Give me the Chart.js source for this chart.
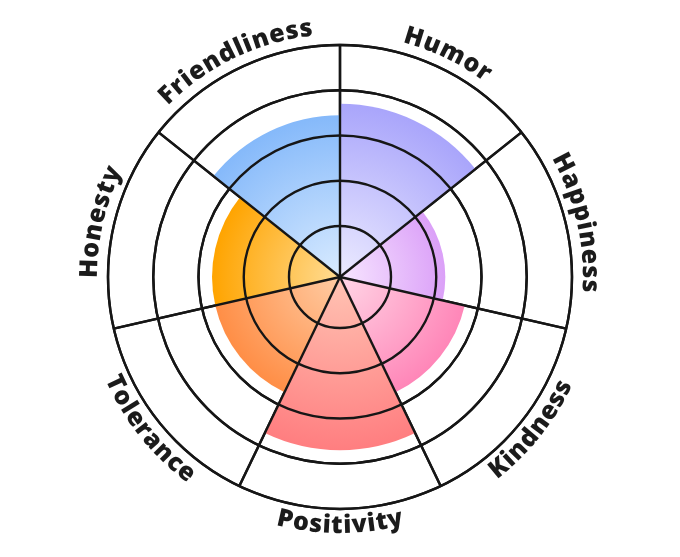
<!DOCTYPE html>
<html>
<head>
<meta charset="utf-8">
<script src="https://cdn.jsdelivr.net/npm/chart.js@4.4.1/dist/chart.umd.min.js"></script>
<style>
  html, body { margin: 0; padding: 0; background: #fff; }
  .wrap { width: 680px; height: 557px; }
</style>
</head>
<body>
<div class="wrap"><canvas id="wheel"></canvas></div>
<script>
const traits = ["Humor", "Happiness", "Kindness", "Positivity", "Tolerance", "Honesty", "Friendliness"]
const scores = [3.7, 2.2, 2.7, 3.7, 2.7, 2.7, 3.45]
const ringTicks = [1, 2, 3, 4, 5]

// gradient stops, edge of wedge -> centre
const edgeColors = ["#a9a5fb", "#dba0f8", "#ff86b8", "#ff7e80", "#ff8e46", "#ffa400", "#85b9fa"]
const innerColors = ["#ecebff", "#f7e6ff", "#ffd6e6", "#ffc4b4", "#ffcca4", "#ffdc94", "#d9ebff"]

const wedgeFill = (c) => {
    const chart = c.chart
    const scale = chart.scales.r
    const i = c.dataIndex
    if (!scale || scale.xCenter == null || c.raw == null) return edgeColors[i]
    const r = scale.getDistanceFromCenterForValue(c.raw)
    const g = chart.ctx.createRadialGradient(scale.xCenter, scale.yCenter, 0, scale.xCenter, scale.yCenter, r)
    g.addColorStop(0, innerColors[i])
    g.addColorStop(1, edgeColors[i])
    return g
}

// rings and spokes go on top of the wedges
const gridOnTop = {
    id: 'gridOnTop',
    afterDatasetsDraw(chart) {
        chart.scales.r.draw(chart.chartArea)
    }
}

// labels bent round the outer ring
const curvedLabels = {
    id: 'curvedLabels',
    afterDraw(chart) {
        const scale = chart.scales.r
        const ctx = chart.ctx
        const step = Math.PI * 2 / traits.length
        const spacing = 0.8
        ctx.save()
        ctx.font = '800 25px "Open Sans"'
        ctx.fillStyle = '#1b1b1b'
        ctx.textAlign = 'center'
        ctx.textBaseline = 'alphabetic'
        traits.forEach((label, i) => {
            const mid = scale.getIndexAngle(i) + step / 2
            const flip = Math.cos(mid) < 0
            const dir = flip ? -1 : 1
            const radius = scale.drawingArea + (flip ? 24 : 11)
            const chars = label.split('')
            const widths = chars.map(ch => ctx.measureText(ch).width)
            const total = widths.reduce((a, b) => a + b, 0) + spacing * (chars.length - 1)
            let s = 0
            chars.forEach((ch, k) => {
                const a = mid + dir * (s + widths[k] / 2 - total / 2) / radius
                const x = scale.xCenter + radius * Math.sin(a)
                const y = scale.yCenter - radius * Math.cos(a)
                ctx.save()
                ctx.translate(x, y)
                ctx.rotate(flip ? a - Math.PI : a)
                ctx.fillText(ch, 0, 0)
                ctx.restore()
                s += widths[k] + spacing
            })
        })
        ctx.restore()
    }
}

const wheel = new Chart(document.getElementById('wheel'), {
    type: 'polarArea',
    data: {
        labels: traits,
        datasets: [{
            data: scores,
            backgroundColor: wedgeFill,
            borderWidth: 0
        }]
    },
    options: {
        responsive: true,
        maintainAspectRatio: false,
        animation: false,
        layout: { padding: { top: 45, bottom: 47, left: 0, right: 0 } },
        plugins: {
            legend: { display: false },
            tooltip: { enabled: false }
        },
        scales: {
            r: {
                min: -0.127,
                max: 5,
                afterBuildTicks: (s) => { s.ticks = ringTicks.map(v => ({ value: v })) },
                ticks: { display: false },
                grid: { color: '#161616', lineWidth: 2.4, circular: true },
                angleLines: { display: true, color: '#161616', lineWidth: 2.4 },
                pointLabels: { display: false }
            }
        }
    },
    plugins: [gridOnTop, curvedLabels]
})
</script>
</body>
</html>
